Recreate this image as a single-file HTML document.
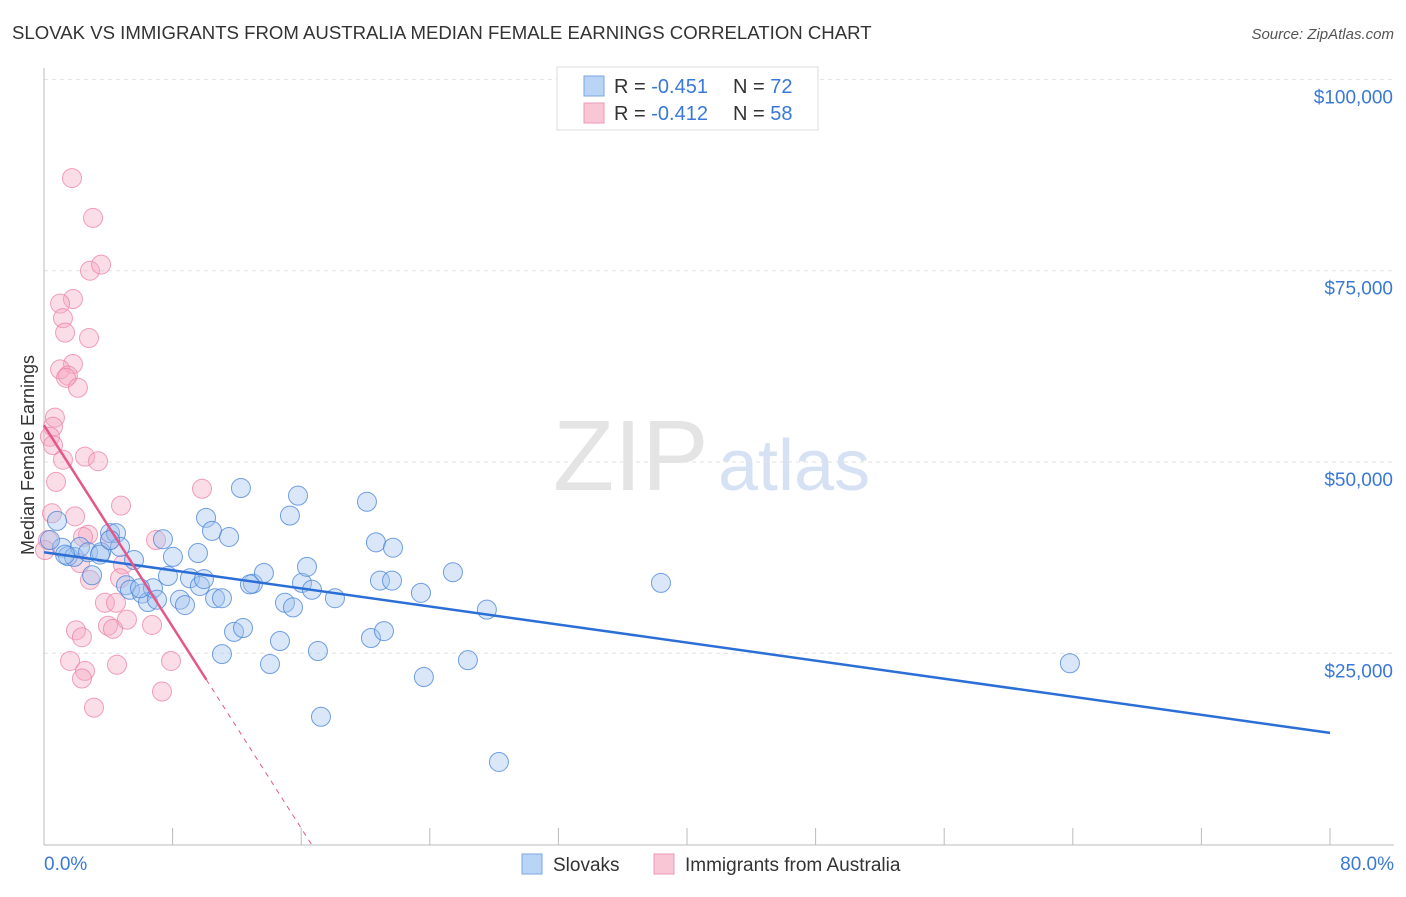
<!DOCTYPE html>
<html><head><meta charset="utf-8"><style>
body{margin:0;background:#fff;font-family:"Liberation Sans",sans-serif;}
svg text{font-family:"Liberation Sans",sans-serif;}
</style></head><body>
<svg id="chart" width="1406" height="892">
<text x="12" y="39" font-size="18.6" fill="#333">SLOVAK VS IMMIGRANTS FROM AUSTRALIA MEDIAN FEMALE EARNINGS CORRELATION CHART</text>
<text x="1394" y="39" font-size="15" fill="#555" font-style="italic" text-anchor="end">Source: ZipAtlas.com</text>
<text x="553" y="490" font-size="100" fill="#e4e4e4" font-family="Liberation Serif">ZIP</text>
<text x="718" y="490" font-size="72" fill="#d6e2f3">atlas</text>
<g id="grid"></g><g id="marks"></g>
<text transform="translate(34,455) rotate(-90)" font-size="18" fill="#333" text-anchor="middle">Median Female Earnings</text>
<g>
<rect x="557" y="67" width="261" height="63" fill="#fff" stroke="#ddd"/>
<rect x="584" y="76" width="20" height="20" fill="#b9d4f5" stroke="#7aa6e0"/>
<rect x="584" y="103" width="20" height="20" fill="#f9c6d5" stroke="#ec9ab4"/>
<text x="614" y="93" font-size="20" fill="#333">R = <tspan fill="#3a78d8">-0.451</tspan></text>
<text x="733" y="93" font-size="20" fill="#333">N = <tspan fill="#3a78d8">72</tspan></text>
<text x="614" y="120" font-size="20" fill="#333">R = <tspan fill="#3a78d8">-0.412</tspan></text>
<text x="733" y="120" font-size="20" fill="#333">N = <tspan fill="#3a78d8">58</tspan></text>
</g>
<g>
<rect x="522" y="854" width="20" height="20" fill="#b9d4f5" stroke="#7aa6e0"/>
<text x="553" y="871" font-size="19" fill="#333">Slovaks</text>
<rect x="654" y="854" width="20" height="20" fill="#f9c6d5" stroke="#ec9ab4"/>
<text x="685" y="871" font-size="19" fill="#333">Immigrants from Australia</text>
</g>
</svg>
<script>
const yTicks=[25000,50000,75000,100000];
const yTickLabels=["$25,000","$50,000","$75,000","$100,000"];
const slovakX=[0.81,1.12,1.49,1.87,2.24,2.74,2.99,3.55,4.11,4.48,4.73,5.10,5.35,5.60,6.10,6.47,6.78,7.03,7.40,7.71,8.02,8.46,8.77,9.08,9.58,9.70,9.95,10.08,10.45,10.64,11.07,11.51,11.82,12.38,11.07,13.00,13.68,14.06,14.68,14.99,15.30,15.49,15.80,16.05,16.36,16.67,17.04,17.23,18.10,20.09,20.34,20.65,20.90,21.15,21.65,21.71,23.45,23.63,25.44,26.37,27.55,28.30,38.38,63.82,0.37,1.31,3.48,12.81,4.11,5.97,12.25];
const slovakY=[42.3,38.8,37.7,37.6,38.9,38.2,35.2,38.2,40.7,40.7,38.9,33.9,33.3,37.2,32.8,31.7,33.5,32.0,39.9,35.1,37.6,32.0,31.3,34.8,38.1,33.8,34.7,42.7,41.0,32.2,32.2,40.2,27.8,28.3,24.9,34.1,35.5,23.6,26.6,31.6,43.0,31.0,45.6,34.2,36.3,33.3,25.3,16.7,32.2,44.8,27.0,39.5,34.5,27.9,34.5,38.8,32.9,21.9,35.6,24.1,30.7,10.8,34.2,23.7,39.8,37.9,37.9,34.0,39.8,33.5,46.6];
const ausX=[1.74,3.05,2.86,3.55,1.80,1.00,1.18,1.31,2.80,1.80,1.00,1.49,1.37,2.11,0.68,0.56,0.37,0.56,1.18,2.55,3.36,0.75,9.83,4.79,0.50,1.93,2.74,2.43,4.11,6.97,4.91,4.73,2.86,3.79,4.48,3.98,4.29,5.16,6.72,1.99,2.36,1.62,4.54,7.90,2.55,2.36,7.34,3.11,0.25,2.24,0.06];
const ausY=[87.1,81.9,75.0,75.8,71.3,70.7,68.8,66.9,66.2,62.8,62.1,61.3,61.0,59.7,55.8,54.6,53.3,52.2,50.3,50.7,50.1,47.4,46.5,44.3,43.3,42.9,40.5,40.2,39.8,39.8,36.6,34.8,34.6,31.6,31.6,28.6,28.2,29.4,28.7,28.0,27.1,24.0,23.5,24.0,22.7,21.7,20.0,17.9,39.8,36.8,38.5];
const slovakTrend=[38.2,14.6];
const ausTrend=[54.8,16.65,10.1];
const NS="http://www.w3.org/2000/svg";
const X0=44,X1=1330,YB=844.6,PXK=191.3/25;
const sx=v=>X0+v/80*(X1-X0), sy=k=>YB-k*PXK;
function mk(t,a,p){const e=document.createElementNS(NS,t);for(const k in a)e.setAttribute(k,a[k]);p.appendChild(e);return e;}
const grid=document.getElementById('grid'),marks=document.getElementById('marks');
yTicks.forEach((t,i)=>{const y=sy(t/1000);
 const l=mk('line',{x1:44,x2:1394,y1:y,y2:y,stroke:'#e2e2e2','stroke-dasharray':'4,4'},grid);
 
 
 const tx=mk('text',{x:1393,y:y+24,'font-size':19,fill:'#3a78d8','text-anchor':'end'},grid);tx.textContent=yTickLabels[i];
 
 });
const ax=mk('line',{x1:44,x2:44,y1:68,y2:845,stroke:'#bbb'},grid);


const bx=mk('line',{x1:44,x2:1394,y1:845,y2:845,stroke:'#bbb'},grid);


for(let i=1;i<=10;i++){const x=sx(i*8);const t=mk('line',{x1:x,x2:x,y1:828,y2:845,stroke:'#bbb'},grid);
 
 }
[["0.0%",44,"start"],["80.0%",1394,"end"]].forEach(([s,x,a])=>{const t=mk('text',{x:x,y:870,'font-size':19,fill:'#3a78d8','text-anchor':a},grid);t.textContent=s;
 
 });
ausX.forEach((v,i)=>{const c=mk('circle',{cx:sx(v),cy:sy(ausY[i]),r:9.5,fill:'rgba(246,170,195,0.4)',stroke:'rgba(236,130,165,0.75)'},marks);
 
 });
slovakX.forEach((v,i)=>{const c=mk('circle',{cx:sx(v),cy:sy(slovakY[i]),r:9.5,fill:'rgba(160,196,240,0.4)',stroke:'rgba(70,130,215,0.75)'},marks);
 
 });
const bl=mk('line',{x1:sx(0),y1:sy(slovakTrend[0]),x2:sx(80),y2:sy(slovakTrend[1]),stroke:'#2b6fd6','stroke-width':2.5},marks);


const af=x=>ausTrend[0]*(1-x/ausTrend[1]);
const pl=mk('line',{x1:sx(0),y1:sy(af(0)),x2:sx(ausTrend[2]),y2:sy(af(ausTrend[2])),stroke:'#e5578a','stroke-width':2.5},marks);


const pd=mk('line',{x1:sx(ausTrend[2]),y1:sy(af(ausTrend[2])),x2:sx(ausTrend[1]),y2:sy(0),stroke:'#e5578a','stroke-width':1,'stroke-dasharray':'5,5'},marks);


</script>
</body></html>
